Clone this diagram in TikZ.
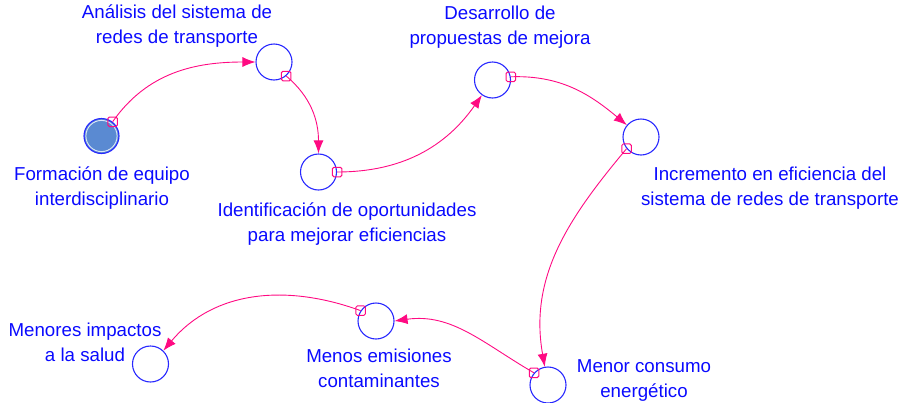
\documentclass[tikz,border=0pt]{standalone}
\usepackage{fontspec}
\setmainfont{Liberation Sans}
\usetikzlibrary{arrows.meta}
\definecolor{lnk}{RGB}{255,10,130}
\definecolor{txt}{RGB}{10,10,255}
\definecolor{cir}{RGB}{40,40,255}
\definecolor{filc}{RGB}{90,138,210}
\tikzset{
  var/.style={circle, draw=cir, line width=1.1pt, minimum size=36pt, inner sep=0pt},
  lbl/.style={text=txt, align=center, font=\fontsize{18.7}{25}\selectfont, inner sep=0pt},
  lnkline/.style={draw=lnk, line width=0.9pt, -{Latex[length=13pt,width=10pt]}},
  tail/.style={rectangle, draw=lnk, line width=1pt, minimum size=9.5pt, inner sep=0pt, rounded corners=1.5pt}
}
\begin{document}
\begin{tikzpicture}[x=1pt,y=-1pt]
\useasboundingbox (0,0) rectangle (901,402);
% variables
\node[var, fill=filc, minimum size=35pt] (f) at (101.5,136) {};
\draw[white!80!filc, line width=0.9pt] (f.center) circle (15.6pt);
\node[var] (a) at (274,62) {};
\node[var] (i) at (318.5,172) {};
\node[var] (d) at (492.5,80) {};
\node[var] (n) at (641,137) {};
\node[var] (c) at (548,385) {};
\node[var] (e) at (376,321) {};
\node[var] (m) at (150.5,364) {};
% labels
\node[lbl] (fl) at (102,188.5) {Formación de equipo\\interdisciplinario};
\node[lbl] (al) at (177,26.5) {Análisis del sistema de\\redes de transporte};
\node[lbl] (il) at (347,224.5) {Identificación de oportunidades\\para mejorar eficiencias};
\node[lbl] (dl) at (500,27) {Desarrollo de\\propuestas de mejora};
\node[lbl] (nl) at (770,188.5) {Incremento en eficiencia del\\sistema de redes de transporte};
\node[lbl] (cl) at (644,380.5) {Menor consumo\\energético};
\node[lbl] (el) at (379,368) {Menos emisiones\\contaminantes};
\node[lbl] (ml) at (85,342.5) {Menores impactos\\a la salud};
% connectors
\draw[lnkline] (f.52) to[out=55,in=180] (a.180);
\draw[lnkline] (a.-49) to[out=-40,in=90] (i.90);
\draw[lnkline] (i.0) to[out=0,in=-125] (d.-125);
\draw[lnkline] (d.10) to[out=2,in=140] (n.140);
\draw[lnkline] (n.-141) to[out=-130,in=100] (c.100);
\draw[lnkline] (c.139) to[out=150,in=8] (e.0);
\draw[lnkline] (e.146) to[out=160,in=50] (m.46);
% tails
\node[tail] (t1) at (f.52) {};
\node[tail] (t2) at (a.-49) {};
\node[tail] (t3) at (i.0) {};
\node[tail] (t4) at (d.10) {};
\node[tail] (t5) at (n.-141) {};
\node[tail] (t6) at (c.139) {};
\node[tail] (t7) at (e.146) {};
\end{tikzpicture}
\end{document}
